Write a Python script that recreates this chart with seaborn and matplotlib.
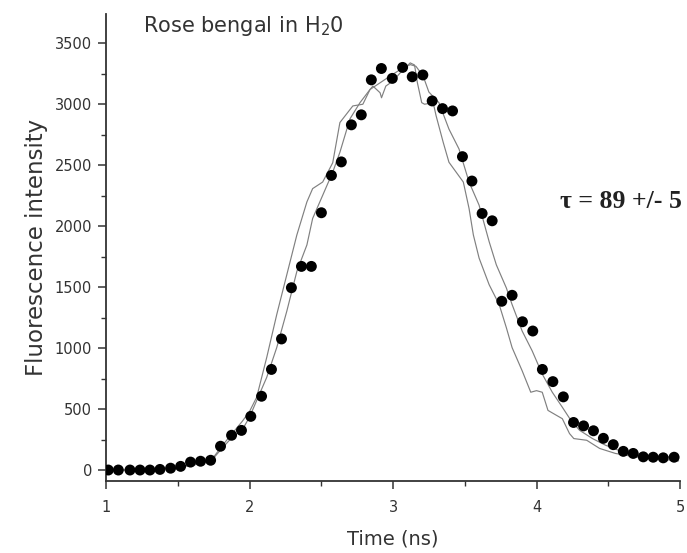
import matplotlib
matplotlib.use("Agg")
import matplotlib.pyplot as plt
import seaborn as sns
import pandas as pd
from matplotlib.ticker import MultipleLocator

# ---- data ----
dot_time = [1.016, 1.086, 1.167, 1.237, 1.306, 1.376, 1.450, 1.520, 1.589, 1.659,
            1.729, 1.798, 1.875, 1.944, 2.009, 2.084, 2.153, 2.223, 2.292, 2.362,
            2.431, 2.501, 2.571, 2.640, 2.710, 2.779, 2.849, 2.919, 2.995, 3.067,
            3.134, 3.208, 3.273, 3.345, 3.415, 3.484, 3.550, 3.621, 3.691, 3.758,
            3.830, 3.902, 3.974, 4.041, 4.114, 4.187, 4.258, 4.328, 4.397, 4.466,
            4.535, 4.605, 4.674, 4.744, 4.813, 4.883, 4.959]
dot_intensity = [0, 0, 0, 0, 0, 5, 15, 30, 65, 72,
                 80, 195, 285, 325, 440, 605, 825, 1075, 1495, 1670,
                 1670, 2110, 2416, 2527, 2831, 2913, 3200, 3293, 3212, 3302,
                 3225, 3240, 3027, 2964, 2945, 2570, 2370, 2104, 2044, 1384,
                 1433, 1216, 1140, 825, 725, 600, 390, 362, 322, 260,
                 208, 153, 136, 108, 105, 100, 105]

lineA_time = [1.00, 1.31, 1.51, 1.65, 1.74, 1.81, 1.88, 1.95, 2.00, 2.05,
              2.12, 2.19, 2.26, 2.33, 2.40, 2.44, 2.51, 2.58, 2.63, 2.72,
              2.79, 2.84, 2.86, 2.91, 2.92, 2.95, 3.00, 3.05, 3.12, 3.15,
              3.17, 3.20, 3.22, 3.28, 3.30, 3.35, 3.39, 3.44, 3.49, 3.53,
              3.56, 3.60, 3.67, 3.74, 3.79, 3.83, 3.90, 3.96, 4.00, 4.04,
              4.08, 4.14, 4.18, 4.23, 4.26, 4.35, 4.44, 4.55, 4.69, 4.86, 4.99]
lineA_intensity = [0, 0, 20, 50, 90, 200, 300, 400, 480, 597,
                   923, 1276, 1602, 1928, 2199, 2308, 2362, 2520, 2850, 2986,
                   3000, 3121, 3149, 3094, 3053, 3149, 3190, 3257, 3339, 3322,
                   3176, 3013, 3000, 3013, 2907, 2687, 2524, 2443, 2362, 2145,
                   1928, 1738, 1520, 1357, 1167, 1004, 814, 638, 651, 638,
                   489, 448, 421, 299, 258, 244, 177, 136, 108, 90, 75]

lineB_time = [1.00, 1.31, 1.51, 1.65, 1.74, 1.81, 1.88, 1.95, 2.00, 2.12,
              2.19, 2.26, 2.33, 2.40, 2.44, 2.51, 2.58, 2.63, 2.70, 2.77,
              2.84, 2.91, 2.98, 3.05, 3.12, 3.16, 3.21, 3.25, 3.32, 3.39,
              3.46, 3.53, 3.60, 3.67, 3.72, 3.79, 3.83, 3.90, 3.97, 4.04,
              4.11, 4.18, 4.24, 4.30, 4.39, 4.48, 4.60, 4.76, 4.99]
lineB_intensity = [0, 0, 25, 60, 85, 180, 270, 330, 434, 760,
                   1005, 1303, 1629, 1846, 2063, 2253, 2443, 2606, 2880, 3013,
                   3121, 3176, 3231, 3284, 3325, 3311, 3231, 3100, 3013, 2796,
                   2633, 2362, 2172, 1873, 1683, 1493, 1357, 1140, 977, 787,
                   638, 515, 407, 326, 258, 204, 149, 122, 100]

x_ticks = [1, 2, 3, 4, 5]
y_ticks = [0, 500, 1000, 1500, 2000, 2500, 3000, 3500]

dots = pd.DataFrame({"t": dot_time, "I": dot_intensity})
lineA = pd.DataFrame({"t": lineA_time, "I": lineA_intensity})
lineB = pd.DataFrame({"t": lineB_time, "I": lineB_intensity})

sns.set_style("ticks")
plt.rcParams["font.family"] = ["DejaVu Sans"]

fig = plt.figure(figsize=(6.87, 5.53), dpi=100)
ax = fig.add_axes([106 / 687, 72 / 553, 574 / 687, 467 / 553])

sns.lineplot(data=lineA, x="t", y="I", ax=ax, color="#808080", lw=0.85,
             estimator=None, sort=False)
sns.lineplot(data=lineB, x="t", y="I", ax=ax, color="#808080", lw=0.85,
             estimator=None, sort=False)
sns.scatterplot(data=dots, x="t", y="I", ax=ax, color="black", s=62,
                edgecolor="none", zorder=5)

ax.set_xlim(1, 5)
ax.set_ylim(-90, 3740)
ax.set_xticks(x_ticks)
ax.set_yticks(y_ticks)
ax.xaxis.set_minor_locator(MultipleLocator(0.5))
ax.yaxis.set_minor_locator(MultipleLocator(250))
ax.tick_params(which="major", direction="out", length=6, width=1.1,
               labelsize=10.5, colors="#333333", pad=4)
ax.tick_params(axis="x", which="major", pad=8)
ax.tick_params(which="minor", direction="out", length=3.5, width=1.0,
               colors="#333333")
for side in ["top", "right"]:
    ax.spines[side].set_visible(False)
for side in ["left", "bottom"]:
    ax.spines[side].set_linewidth(1.3)
    ax.spines[side].set_color("#333333")

ax.set_xlabel("Time (ns)", fontsize=14, color="#333333", labelpad=10)
ax.set_ylabel("Fluorescence intensity", fontsize=16.5, color="#333333",
              labelpad=5)

fig.text(143 / 687, 1 - 14 / 553, r"Rose bengal in H$_2$0",
         fontsize=15, color="#333333", va="top", ha="left")
fig.text(682 / 687, 1 - 202 / 553, "\u03c4 = 89 +/- 5",
         fontsize=18.5, fontweight="bold", family="Liberation Serif",
         color="#222222", va="center", ha="right")

fig.savefig("out.png", dpi=100)
